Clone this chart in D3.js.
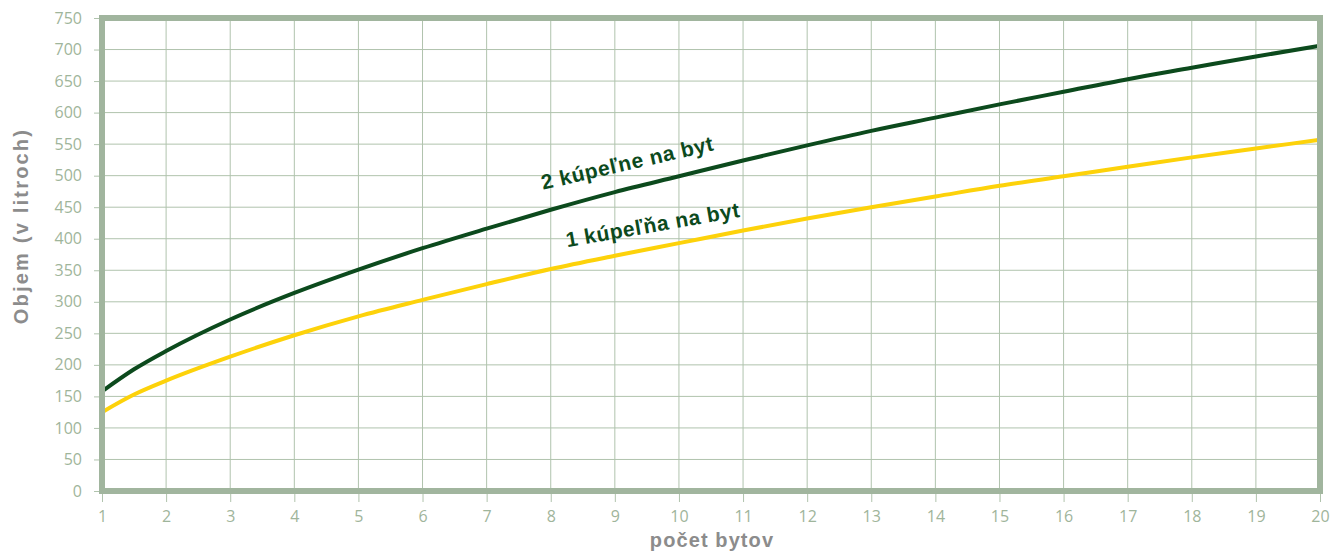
<!DOCTYPE html>
<html><head><meta charset="utf-8">
<script src="https://cdn.jsdelivr.net/npm/d3@7"></script>
<style>body{margin:0;background:#fff}svg{display:block}</style>
</head><body><svg id="c" width="1333" height="553"></svg>
<script>
const xTicks = d3.range(1, 21);
const yTicks = d3.range(0, 751, 50);
const flats = [1, 1.5, 2, 3, 4, 5, 6, 7, 8, 9, 10, 11, 12, 13, 14, 15, 16, 17, 18, 19, 20];
const twoBath = [158, 193, 222, 272, 314, 351, 385, 416, 446, 474, 499, 524, 548, 571, 592, 613, 633, 653, 671, 689, 706];
const oneBath = [125, 153, 175, 213, 247, 277, 303, 328, 352, 373, 393, 413, 432, 450, 467, 484, 499, 514, 529, 543, 557];
const seriesLabels = ["2 kúpeľne na byt", "1 kúpeľňa na byt"];
const xTitle = "počet bytov";
const yTitle = "Objem (v litroch)";

const svg = d3.select("#c");
const x = d3.scaleLinear().domain([1, 20]).range([102, 1320]);
const y = d3.scaleLinear().domain([0, 750]).range([491, 18]);
const frameC = "#a1b59e", gridC = "#b0c3ad", tickTxt = "#9fb59b";
const boldFont = "'Liberation Sans', Arial, sans-serif";

// grid
svg.append("g").selectAll("line").data(yTicks.slice(1, -1)).join("line")
  .attr("x1", x(1)).attr("x2", x(20)).attr("y1", d => y(d)).attr("y2", d => y(d))
  .attr("stroke", gridC).attr("stroke-width", 1);
svg.append("g").selectAll("line").data(xTicks.slice(1, -1)).join("line")
  .attr("y1", y(0)).attr("y2", y(750)).attr("x1", d => x(d)).attr("x2", d => x(d))
  .attr("stroke", gridC).attr("stroke-width", 1);

// axes ticks + labels
const yAxis = svg.append("g").attr("transform", `translate(${x(1)},0)`)
  .call(d3.axisLeft(y).tickValues(yTicks).tickSize(8).tickPadding(12));
const xAxis = svg.append("g").attr("transform", `translate(0,${y(0)})`)
  .call(d3.axisBottom(x).tickValues(xTicks).tickSize(11).tickPadding(9));
[yAxis, xAxis].forEach(a => {
  a.select(".domain").remove();
  a.selectAll("line").attr("stroke", gridC);
  a.selectAll("text").attr("fill", tickTxt).attr("font-family", "'Open Sans', sans-serif").attr("font-size", 16);
});

// lines
const line = d3.line().x((d, i) => x(flats[i])).y(d => y(d)).curve(d3.curveMonotoneX);
svg.append("path").datum(oneBath).attr("d", line).attr("fill", "none")
  .attr("stroke", "#fdd20a").attr("stroke-width", 4);
svg.append("path").datum(twoBath).attr("d", line).attr("fill", "none")
  .attr("stroke", "#0c4a1d").attr("stroke-width", 4);

// frame
svg.append("rect").attr("x", x(1)).attr("y", y(750)).attr("width", x(20) - x(1)).attr("height", y(0) - y(750))
  .attr("fill", "none").attr("stroke", frameC).attr("stroke-width", 6);

// series labels
svg.append("text").attr("transform", `translate(629,170) rotate(-13)`)
  .attr("text-anchor", "middle").attr("font-family", boldFont).attr("letter-spacing", 0.6)
  .attr("font-weight", "bold").attr("font-size", 21).attr("fill", "#0c4a1d").text(seriesLabels[0]);
svg.append("text").attr("transform", `translate(654,232) rotate(-10)`)
  .attr("text-anchor", "middle").attr("font-family", boldFont).attr("letter-spacing", 0.6)
  .attr("font-weight", "bold").attr("font-size", 21).attr("fill", "#0c4a1d").text(seriesLabels[1]);

// axis titles
svg.append("text").attr("x", 712).attr("y", 547).attr("text-anchor", "middle")
  .attr("font-family", boldFont).attr("font-weight", "bold").attr("letter-spacing", 1.1)
  .attr("font-size", 20).attr("fill", "#8c8c8c").text(xTitle);
svg.append("text").attr("transform", `translate(28,226) rotate(-90)`).attr("text-anchor", "middle")
  .attr("font-family", boldFont).attr("font-weight", "bold").attr("letter-spacing", 2.2)
  .attr("font-size", 20).attr("fill", "#8c8c8c").text(yTitle);
</script></body></html>
